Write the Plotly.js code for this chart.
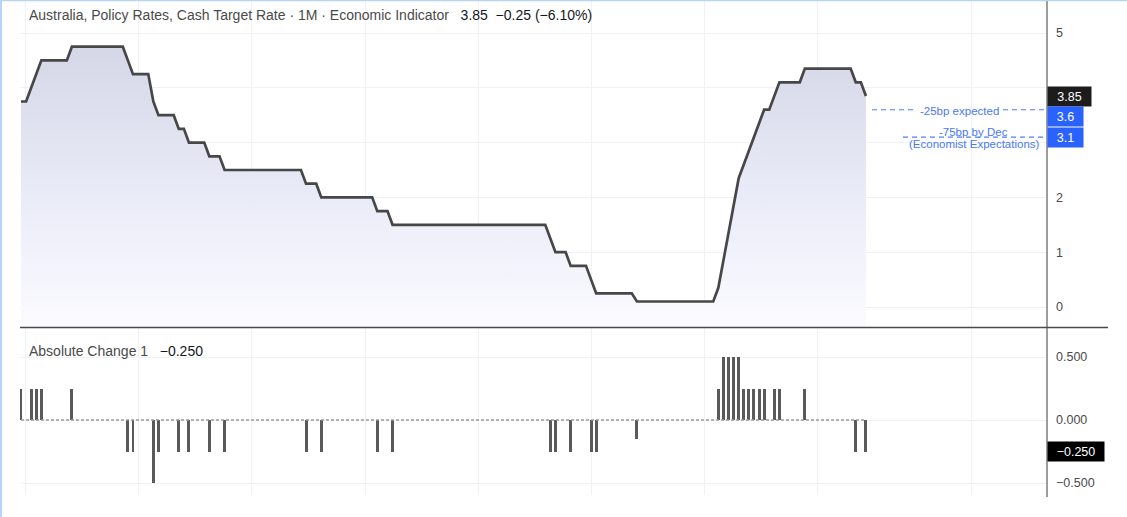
<!DOCTYPE html>
<html><head><meta charset="utf-8">
<script src="https://cdn.plot.ly/plotly-3.0.1.min.js"></script>
<style>html,body{margin:0;padding:0;background:#fff;overflow:hidden}#chart{width:1127px;height:517px}</style>
</head><body><div id="chart"></div>
<script>
// RBA cash target rate, one value per policy decision (Dec 2009 .. May 2025)
const cashRate = [
  3.75,
  3.75,4.00,4.25,4.50,4.50,4.50,4.50,4.50,4.50,4.75,4.75,
  4.75,4.75,4.75,4.75,4.75,4.75,4.75,4.75,4.75,4.50,4.25,
  4.25,4.25,4.25,3.75,3.50,3.50,3.50,3.50,3.25,3.25,3.00,
  3.00,3.00,3.00,2.75,2.75,2.75,2.50,2.50,2.50,2.50,2.50,
  2.50,2.50,2.50,2.50,2.50,2.50,2.50,2.50,2.50,2.50,2.50,
  2.25,2.25,2.25,2.00,2.00,2.00,2.00,2.00,2.00,2.00,2.00,
  2.00,2.00,2.00,1.75,1.75,1.75,1.50,1.50,1.50,1.50,1.50,
  1.50,1.50,1.50,1.50,1.50,1.50,1.50,1.50,1.50,1.50,1.50,
  1.50,1.50,1.50,1.50,1.50,1.50,1.50,1.50,1.50,1.50,1.50,
  1.50,1.50,1.50,1.50,1.25,1.00,1.00,1.00,0.75,0.75,0.75,
  0.75,0.50,0.25,0.25,0.25,0.25,0.25,0.25,0.25,0.25,0.10,0.10,
  0.10,0.10,0.10,0.10,0.10,0.10,0.10,0.10,0.10,0.10,0.10,
  0.10,0.10,0.10,0.35,0.85,1.35,1.85,2.35,2.60,2.85,3.10,
  3.35,3.60,3.60,3.85,4.10,4.10,4.10,4.10,4.10,4.35,4.35,
  4.35,4.35,4.35,4.35,4.35,4.35,4.35,4.35,
  4.10,4.10,3.85
];
// Absolute Change 1 (per decision)
const absChange = [
  0.25,
  0,0.25,0.25,0.25,0,0,0,0,0,0.25,0,
  0,0,0,0,0,0,0,0,0,-0.25,-0.25,
  0,0,0,-0.5,-0.25,0,0,0,-0.25,0,-0.25,
  0,0,0,-0.25,0,0,-0.25,0,0,0,0,
  0,0,0,0,0,0,0,0,0,0,0,
  -0.25,0,0,-0.25,0,0,0,0,0,0,0,
  0,0,0,-0.25,0,0,-0.25,0,0,0,0,
  0,0,0,0,0,0,0,0,0,0,0,
  0,0,0,0,0,0,0,0,0,0,0,
  0,0,0,0,-0.25,-0.25,0,0,-0.25,0,0,
  0,-0.25,-0.25,0,0,0,0,0,0,0,-0.15,0,
  0,0,0,0,0,0,0,0,0,0,0,
  0,0,0,0.25,0.5,0.5,0.5,0.5,0.25,0.25,0.25,
  0.25,0.25,0,0.25,0.25,0,0,0,0,0.25,0,
  0,0,0,0,0,0,0,0,
  -0.25,0,-0.25
];
const rateTicks = [0,1,2,3,4,5];
const rateTickText = ['0','1','2','','','5'];   // 3 and 4 sit under the value tags
const changeTicks = [-0.5,0,0.5];
const lastRate = 3.85, lastChange = -0.25, lastPct = -6.10;
const expectations = [
  {value:3.6, label:'-25bp expected'},
  {value:3.1, label:'-75bp by Dec', sub:'(Economist Expectations)'}
];
const seriesTitle = 'Australia, Policy Rates, Cash Target Rate · 1M · Economic Indicator';
const indicatorTitle = 'Absolute Change 1';

// ---- geometry (pixels) ----
const PL=20, PR=1047, PT=0, PB=495;   // plot area
const BAR0=21, BARW=5.09;             // px of first bar, px per bar
const xAt = px => (px-BAR0)/BARW;
const py = p => (PB-p)/(PB-PT);       // paper y from pixel
const pxp = p => (p-PL)/(PR-PL);      // paper x from pixel
const Y0=307, YU=54.8;                // top pane: 0 at 307px, 54.8px/unit
const Z0=420, ZU=126;                 // bottom pane
const idx = cashRate.map((_,i)=>i);
const gridX = [25,138,251,365,478,591,704,817,971].map(xAt);
const xRange=[xAt(PL), xAt(PR)];
const yMin=(Y0-327)/YU;

const grid='#eff1f5';
const font='"Liberation Sans", Arial, sans-serif';
const blue='#4a78f4';

const traces = [
  {x:[0,idx.length-1], y:[yMin,yMin], mode:'lines', line:{width:0,color:'rgba(0,0,0,0)'}, hoverinfo:'skip', xaxis:'x', yaxis:'y'},
  {x:idx, y:cashRate, mode:'lines', fill:'tonexty',
   fillgradient:{type:'vertical', start:yMin, stop:4.75, colorscale:[[0,'rgb(251,251,255)'],[0.5,'rgb(232,234,247)'],[1,'rgb(213,215,231)']]},
   line:{color:'#474747', width:2.7}, xaxis:'x', yaxis:'y'},
  {x:[0,idx.length-1], y:[0,0], mode:'lines', line:{color:'#9a9a9a', width:1.5, dash:'3px,2px'}, xaxis:'x2', yaxis:'y2'},
  {x:idx, y:absChange, type:'bar', width:0.58, marker:{color:'#5a5a5a', line:{width:0}}, xaxis:'x2', yaxis:'y2'}
];

const shapes = [];
shapes.push({type:'line', xref:'paper', yref:'paper', x0:1, x1:1, y0:py(497), y1:1, line:{color:'#3a3a3a', width:1}});
shapes.push({type:'line', xref:'paper', yref:'paper', x0:0, x1:pxp(1108), y0:py(327.5), y1:py(327.5), line:{color:'#4a4a4a', width:1.5}});
shapes.push({type:'line', xref:'paper', yref:'paper', x0:pxp(1), x1:pxp(1), y0:py(517), y1:py(0), line:{color:'#b7d3f7', width:2}});
shapes.push({type:'line', xref:'paper', yref:'paper', x0:pxp(0), x1:pxp(1127), y0:py(0.5), y1:py(0.5), line:{color:'#b7d3f7', width:1.5}});
const dashLine = {color:'#4f7ef7', width:1.1, dash:'5px,4px'};
shapes.push({type:'line', xref:'x', yref:'y', x0:xAt(872), x1:xAt(915), y0:expectations[0].value, y1:expectations[0].value, line:dashLine});
shapes.push({type:'line', xref:'x', yref:'y', x0:xAt(1003), x1:xRange[1], y0:expectations[0].value, y1:expectations[0].value, line:dashLine});
shapes.push({type:'line', xref:'x', yref:'y', x0:xAt(903), x1:xRange[1], y0:expectations[1].value, y1:expectations[1].value, line:dashLine});

const annotations = [];
annotations.push({xref:'paper', yref:'paper', x:pxp(27), y:py(15), xanchor:'left', yanchor:'middle', showarrow:false,
  text: seriesTitle + '\u00a0\u00a0\u00a0<span style="color:#131722">' + lastRate.toFixed(2) + '\u00a0\u00a0\u2212' + Math.abs(lastChange).toFixed(2) + ' (\u2212' + Math.abs(lastPct).toFixed(2) + '%)</span>',
  font:{family:font, size:14, color:'#4a4a4a'}});
annotations.push({xref:'paper', yref:'paper', x:pxp(27), y:py(351), xanchor:'left', yanchor:'middle', showarrow:false,
  text: indicatorTitle + '\u00a0\u00a0\u00a0<span style="color:#131722">\u2212' + Math.abs(lastChange).toFixed(3) + '</span>',
  font:{family:font, size:14, color:'#4a4a4a'}});
annotations.push({xref:'x', yref:'paper', x:xAt(959), y:py(111), showarrow:false, xanchor:'center', yanchor:'middle',
  text:expectations[0].label, font:{family:font, size:11.5, color:blue}});
annotations.push({xref:'x', yref:'paper', x:xAt(973), y:py(132), showarrow:false, xanchor:'center', yanchor:'middle',
  text:expectations[1].label, font:{family:font, size:11.5, color:blue}});
annotations.push({xref:'x', yref:'paper', x:xAt(974), y:py(144), showarrow:false, xanchor:'center', yanchor:'middle',
  text:expectations[1].sub, font:{family:font, size:11.5, color:blue}});
function tag(text, centerPx, w, bg){
  annotations.push({xref:'paper', yref:'paper', x:1, y:py(centerPx), xanchor:'left', yanchor:'middle', showarrow:false,
    text:text, bgcolor:bg, width:w, height:17, borderpad:1, align:'center', font:{family:font, size:12.5, color:'#ffffff'}});
}
tag(lastRate.toFixed(2), Y0-lastRate*YU, 41, '#1c1c1c');
tag(String(expectations[0].value), 117, 33, '#2962ff');
tag(String(expectations[1].value), 137.5, 33, '#2962ff');
tag('\u2212' + Math.abs(lastChange).toFixed(3), Z0-lastChange*ZU, 54, '#000000');

const layout = {
  width:1127, height:517, margin:{l:PL, r:1127-PR, t:PT, b:517-PB},
  paper_bgcolor:'#ffffff', plot_bgcolor:'#ffffff', showlegend:false, hovermode:false,
  font:{family:font, size:12, color:'#4a4a4a'},
  bargap:0,
  xaxis:{domain:[0,1], range:xRange, anchor:'y', tickvals:gridX, showticklabels:false, ticks:'', showgrid:true, gridcolor:grid, zeroline:false, showline:false},
  xaxis2:{domain:[0,1], range:xRange, anchor:'y2', tickvals:gridX, showticklabels:false, ticks:'', showgrid:true, gridcolor:grid, zeroline:false, showline:false},
  yaxis:{domain:[py(327),1], range:[yMin, Y0/YU], side:'right', anchor:'x', tickvals:rateTicks, ticktext:rateTickText,
    ticks:'', ticklabelstandoff:8, showgrid:true, gridcolor:grid, zeroline:false, showline:false, tickfont:{family:font, size:12.5, color:'#4a4a4a'}},
  yaxis2:{domain:[0,py(328)], range:[-(PB-Z0)/ZU, (Z0-328)/ZU], side:'right', anchor:'x2', tickvals:changeTicks, tickformat:'.3f',
    ticks:'', ticklabelstandoff:8, showgrid:true, gridcolor:grid, zeroline:false, showline:false, tickfont:{family:font, size:12.5, color:'#4a4a4a'}},
  shapes:shapes, annotations:annotations
};
Plotly.newPlot('chart', traces, layout, {staticPlot:true, displayModeBar:false});
</script></body></html>
